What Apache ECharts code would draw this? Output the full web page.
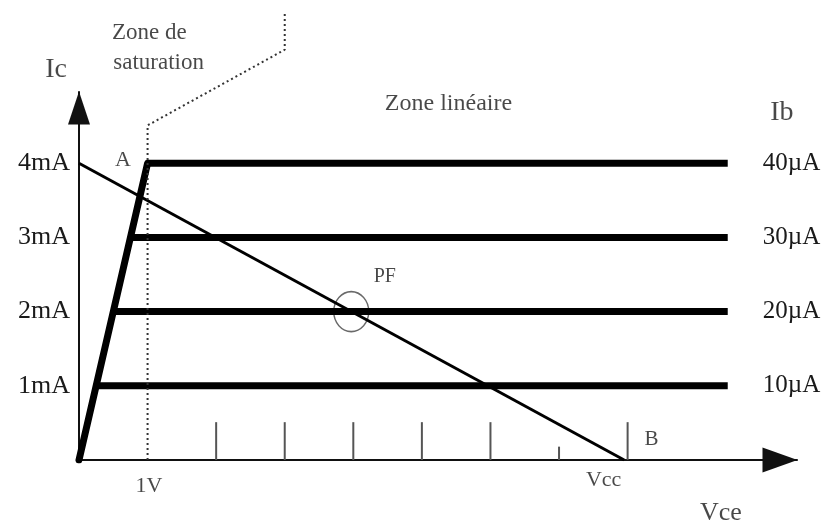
<!DOCTYPE html>
<html>
<head>
<meta charset="utf-8">
<script src="https://cdn.jsdelivr.net/npm/echarts@6/dist/echarts.min.js"></script>
<style>
  html, body { margin: 0; padding: 0; background: #fff; }
  #chart { width: 831px; height: 526px; }
</style>
</head>
<body>
<div id="chart"></div>
<script>
// courant collecteur (mA) pour chaque courant de base
var icLevels = [1, 2, 3, 4];
var icLabels = ['1mA', '2mA', '3mA', '4mA'];
var ibLabels = ['10µA', '20µA', '30µA', '40µA'];
var kneeV = [0.25, 0.5, 0.75, 1];   // debut du palier (V)
var vEnd = 9.46;                     // fin des paliers (V)
var vcc = 7.95;
var satLine = [[0, 0], [1, 4]];
var loadLine = [[0, 4], [vcc, 0]];
var pf = [[3.97, 2]];
var satBoundary = [[1, 0], [1, 4.51], [3.0, 5.53], [3.0, 6.02]];
var tickV = [2, 3, 4, 5, 6, 7, 8];
var tickH = [0.51, 0.51, 0.51, 0.51, 0.51, 0.18, 0.51];
var notes = [
  [-0.335, 5.26, 'Ic', 'center', 28],
  [10.25, 4.68, 'Ib', 'center', 28],
  [9.36, -0.71, 'Vce', 'center', 26],
  [0.64, 4.04, 'A', 'center', 22],
  [0.48, 5.75, 'Zone de', 'left', 23],
  [0.50, 5.35, 'saturation', 'left', 23],
  [4.46, 4.80, 'Zone linéaire', 'left', 24],
  [4.46, 2.47, 'PF', 'center', 20],
  [1.02, -0.36, '1V', 'center', 22],
  [7.65, -0.27, 'Vcc', 'center', 22],
  [8.35, 0.28, 'B', 'center', 21]
];

var font = 'Liberation Serif';
var txt = '#1a1a1a';

var series = [];
icLevels.forEach(function (ic, i) {
  series.push({
    name: ibLabels[i],
    type: 'line',
    data: [[kneeV[i], ic], [vEnd, ic]],
    symbol: 'none',
    lineStyle: { color: '#000', width: 7 },
    endLabel: { show: true, formatter: '{a}', distance: 35, color: txt, fontFamily: font, fontSize: 25 },
    silent: true
  });
});
series.push({
  type: 'line', data: satLine, symbol: 'none',
  lineStyle: { color: '#000', width: 7, cap: 'round' }, silent: true
});
series.push({
  type: 'line', data: loadLine, symbol: 'none',
  lineStyle: { color: '#000', width: 3 }, silent: true
});
series.push({
  type: 'line', data: satBoundary, symbol: 'none', clip: false,
  lineStyle: { color: '#333', width: 2, type: [2, 3] }, silent: true
});
series.push({
  type: 'custom',
  data: tickV.map(function (v, i) { return [v, tickH[i]]; }),
  renderItem: function (params, api) {
    var p0 = api.coord([api.value(0), 0]);
    var p1 = api.coord([api.value(0), api.value(1)]);
    return { type: 'line', shape: { x1: p0[0], y1: p0[1], x2: p1[0], y2: p1[1] },
      style: { stroke: '#555', lineWidth: 2 } };
  },
  silent: true
});
series.push({
  type: 'scatter', data: pf, symbol: 'circle', symbolSize: [35, 40],
  itemStyle: { color: 'rgba(0,0,0,0)', borderColor: '#444', borderWidth: 1.5 }, silent: true
});
series.push({
  type: 'scatter', clip: false, symbolSize: 0, silent: true,
  data: notes.map(function (n) {
    return { value: [n[0], n[1]], label: { formatter: n[2], align: n[3], fontSize: n[4] } };
  }),
  label: { show: true, position: 'inside', color: txt, fontFamily: font, verticalAlign: 'middle' }
});

var chart = echarts.init(document.getElementById('chart'));
chart.setOption({
  backgroundColor: '#fff',
  animation: false,
  grid: { left: 79, top: 92, right: 34, bottom: 66 },
  xAxis: {
    type: 'value', min: 0, max: 10.47,
    splitLine: { show: false }, axisTick: { show: false }, axisLabel: { show: false },
    axisLine: { lineStyle: { color: '#111', width: 2 }, symbol: ['none', 'triangle'],
      symbolSize: [25, 35], symbolOffset: [0, -17] }
  },
  yAxis: {
    type: 'value', min: 0, max: 4.96, interval: 1,
    splitLine: { show: false }, axisTick: { show: false },
    axisLabel: {
      margin: 9, color: txt, fontFamily: font, fontSize: 26, showMaxLabel: false,
      formatter: function (v) { var k = icLevels.indexOf(v); return k >= 0 ? icLabels[k] : ''; }
    },
    axisLine: { lineStyle: { color: '#111', width: 2 }, symbol: ['none', 'triangle'],
      symbolSize: [22, 33], symbolOffset: [0, -16] }
  },
  series: series
});
</script>
</body>
</html>
